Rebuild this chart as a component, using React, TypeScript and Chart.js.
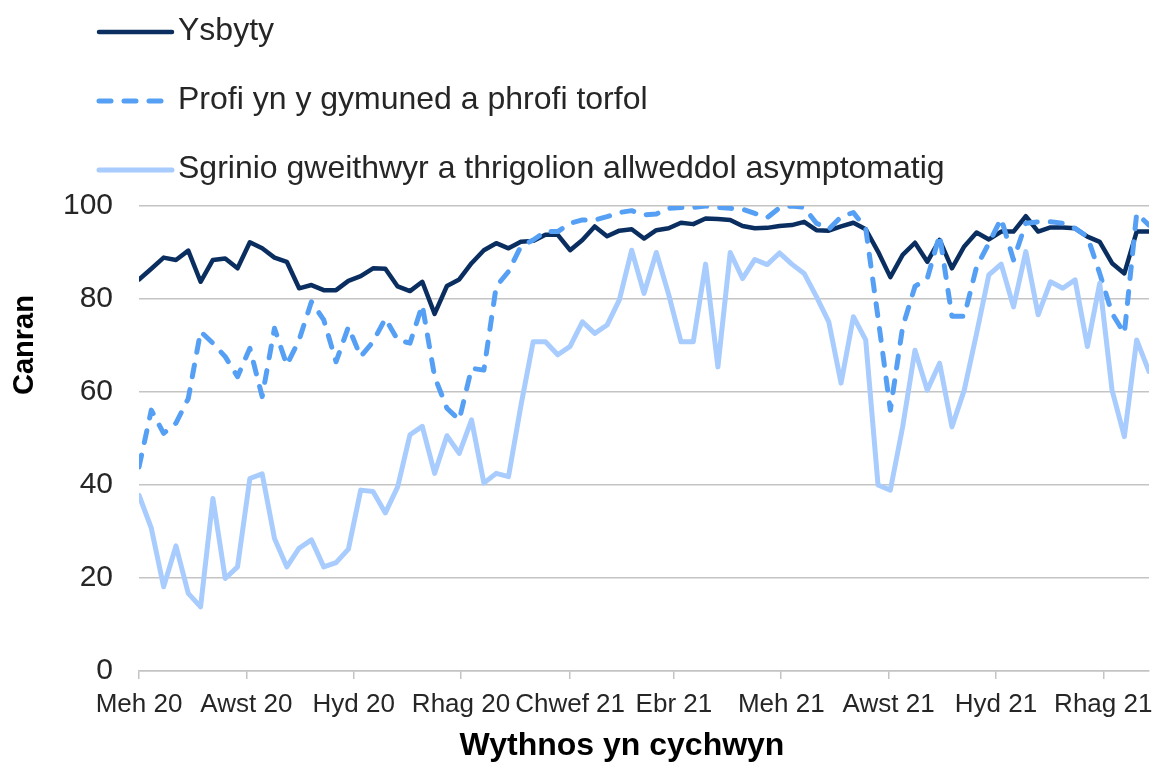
import React, { useEffect, useRef } from "react";
import { Chart, registerables } from "chart.js";

Chart.register(...registerables);

// ---- Data -----------------------------------------------------------------
const firstWeek = "2020-06-01"; // first "week beginning" date
const seriesNames = [
  "Ysbyty",
  "Profi yn y gymuned a phrofi torfol",
  "Sgrinio gweithwyr a thrigolion allweddol asymptomatig",
];

const ysbyty = [
  84.2, 86.5, 88.9, 88.4, 90.4, 83.7, 88.4, 88.7, 86.6, 92.2,
  90.9, 88.9, 88.0, 82.3, 83.0, 81.9, 81.9, 83.9, 84.9, 86.6,
  86.5, 82.7, 81.7, 83.7, 76.8, 82.8, 84.2, 87.7, 90.5, 92.0,
  90.9, 92.3, 92.5, 93.8, 93.8, 90.5, 92.7, 95.6, 93.5, 94.7,
  95.0, 93.0, 94.8, 95.2, 96.4, 96.1, 97.3, 97.2, 97.0, 95.7,
  95.2, 95.3, 95.7, 95.9, 96.6, 94.8, 94.7, 95.6, 96.4, 95.0,
  90.2, 84.7, 89.5, 92.1, 88.0, 92.7, 86.6, 91.3, 94.3, 92.8,
  94.5, 94.5, 97.8, 94.5, 95.4, 95.4, 95.2, 93.4, 92.3, 87.7,
  85.5, 94.5, 94.5,
];

const profi = [
  43.9, 56.1, 51.1, 53.3, 58.6, 73.0, 70.5, 67.6, 63.3, 69.4,
  59.0, 73.7, 65.8, 71.2, 79.4, 75.5, 66.5, 74.0, 67.6, 70.8,
  75.8, 71.2, 70.5, 78.7, 63.3, 56.5, 54.0, 65.1, 64.7, 82.7,
  85.9, 91.3, 92.7, 94.5, 94.5, 96.3, 97.0, 97.0, 97.7, 98.6,
  99.0, 98.1, 98.3, 99.5, 99.7, 99.7, 100.0, 99.7, 99.5, 99.3,
  98.4, 97.5, 99.6, 100.0, 99.7, 96.3, 95.0, 97.7, 98.6, 95.2,
  76.0, 56.1, 74.0, 82.7, 84.4, 93.8, 76.3, 76.3, 86.9, 92.0,
  97.3, 88.4, 96.3, 96.6, 96.6, 96.3, 95.2, 93.4, 85.5, 76.9,
  72.6, 98.4, 95.9,
];

const sgrinio = [
  37.8, 30.7, 18.1, 26.9, 16.7, 13.8, 37.1, 19.9, 22.4, 41.4,
  42.4, 28.5, 22.4, 26.4, 28.2, 22.4, 23.3, 26.2, 38.9, 38.6,
  34.0, 39.6, 50.8, 52.6, 42.5, 50.6, 46.8, 54.0, 40.4, 42.5,
  41.8, 57.0, 70.8, 70.8, 68.0, 69.8, 75.1, 72.6, 74.4, 79.8,
  90.5, 81.2, 90.0, 81.0, 70.8, 70.8, 87.5, 65.4, 90.0, 84.4,
  88.5, 87.4, 89.9, 87.5, 85.5, 80.5, 75.1, 61.9, 76.2, 71.2,
  40.0, 38.9, 52.5, 69.0, 60.4, 66.2, 52.5, 60.4, 72.6, 85.2,
  87.5, 78.3, 90.2, 76.6, 83.7, 82.3, 84.1, 69.8, 83.4, 60.4,
  50.4, 71.2, 64.4,
];

const tickDates = [
  "2020-06-01", "2020-08-01", "2020-10-01", "2020-12-01", "2021-02-01",
  "2021-04-01", "2021-06-01", "2021-08-01", "2021-10-01", "2021-12-01",
];
const tickLabels = [
  "Meh 20", "Awst 20", "Hyd 20", "Rhag 20", "Chwef 21",
  "Ebr 21", "Meh 21", "Awst 21", "Hyd 21", "Rhag 21",
];
const yMin = 0;
const yMax = 100;
const yStep = 20;
const xTitle = "Wythnos yn cychwyn";
const yTitle = "Canran";

// ---- Helpers --------------------------------------------------------------
const DAY = 86400000;
const daysFromStart = (d: string) =>
  Math.round((Date.parse(d) - Date.parse(firstWeek)) / DAY);
const weekDays = ysbyty.map((_, i) => i * 7); // week-beginning dates, in days
const tickDays = tickDates.map(daysFromStart);

const FONT = "'Liberation Sans', Arial, Helvetica, sans-serif";
const TEXT = "#262626";
const GRID = "#C4C4C4";

const stackLegend = {
  id: "stackLegend",
  afterDraw(chart: any) {
    const opts = chart.options.plugins.stackLegend;
    const ctx = chart.ctx;
    chart.data.datasets.forEach((ds: any, i: number) => {
      const y = opts.top + i * opts.spacing;
      ctx.save();
      ctx.strokeStyle = ds.borderColor;
      ctx.lineWidth = ds.borderWidth;
      ctx.lineCap = ds.borderCapStyle || "butt";
      ctx.setLineDash(ds.borderDash || []);
      ctx.beginPath();
      ctx.moveTo(opts.x0, y);
      ctx.lineTo(opts.x1, y);
      ctx.stroke();
      ctx.setLineDash([]);
      ctx.fillStyle = opts.color;
      ctx.font = opts.font;
      ctx.textAlign = "left";
      ctx.textBaseline = "alphabetic";
      ctx.fillText(ds.label, opts.textX, y + opts.baselineOffset);
      ctx.restore();
    });
  },
};

// axis titles placed like the original (not exactly centred on the plot)
const axisTitles = {
  id: "axisTitles",
  afterDraw(chart: any) {
    const o = chart.options.plugins.axisTitles;
    const ctx = chart.ctx;
    ctx.save();
    ctx.fillStyle = o.color;
    ctx.textAlign = "center";
    ctx.textBaseline = "middle";
    ctx.font = o.xFont;
    ctx.fillText(o.xText, o.xCx, o.xCy);
    ctx.translate(o.yCx, o.yCy);
    ctx.rotate(-Math.PI / 2);
    ctx.font = o.yFont;
    ctx.fillText(o.yText, 0, 0);
    ctx.restore();
  },
};

export default function App() {
  const ref = useRef<HTMLCanvasElement | null>(null);

  useEffect(() => {
    if (!ref.current) return;
    const mk = (vals: number[]) => vals.map((v, i) => ({ x: weekDays[i], y: v }));
    const chart = new Chart(ref.current, {
      type: "line",
      data: {
        datasets: [
          {
            label: seriesNames[0],
            data: mk(ysbyty),
            borderColor: "#0B2E61",
            borderWidth: 4.5,
            borderJoinStyle: "round",
            borderCapStyle: "round",
            pointRadius: 0,
            tension: 0,
            fill: false,
            order: 3,
          },
          {
            label: seriesNames[1],
            data: mk(profi),
            borderColor: "#55A0F4",
            borderWidth: 5,
            borderDash: [12, 13],
            borderJoinStyle: "round",
            borderCapStyle: "round",
            pointRadius: 0,
            tension: 0,
            fill: false,
            order: 2,
          },
          {
            label: seriesNames[2],
            data: mk(sgrinio),
            borderColor: "#A8CCFD",
            borderWidth: 5,
            borderJoinStyle: "round",
            borderCapStyle: "round",
            pointRadius: 0,
            tension: 0,
            fill: false,
            order: 1,
          },
        ],
      },
      options: {
        animation: false,
        responsive: false,
        layout: { padding: { top: 206, right: 6, left: 0, bottom: 0 } },
        plugins: {
          legend: { display: false },
          tooltip: { enabled: false },
          stackLegend: {
            top: 32,
            spacing: 69,
            x0: 99,
            x1: 172,
            textX: 178,
            baselineOffset: 8,
            font: `32px ${FONT}`,
            color: TEXT,
          },
          axisTitles: {
            color: "#000",
            xText: xTitle,
            xFont: `bold 32px ${FONT}`,
            xCx: 622,
            xCy: 746,
            yText: yTitle,
            yFont: `bold 29px ${FONT}`,
            yCx: 25,
            yCy: 345,
          },
        } as any,
        scales: {
          x: {
            type: "linear",
            min: 0,
            max: weekDays[weekDays.length - 1],
            afterBuildTicks: (scale: any) => {
              scale.ticks = tickDays.map((v) => ({ value: v }));
            },
            afterFit: (scale: any) => {
              scale.height = 91;
              scale.paddingLeft = 0;
              scale.paddingRight = 0;
            },
            ticks: {
              autoSkip: false,
              maxRotation: 0,
              minRotation: 0,
              padding: 10,
              color: TEXT,
              font: { family: FONT, size: 26 },
              callback: (value: any) => {
                const k = tickDays.indexOf(Number(value));
                return k >= 0 ? tickLabels[k] : "";
              },
            },
            grid: {
              drawOnChartArea: false,
              drawTicks: true,
              tickLength: 8,
              color: GRID,
              lineWidth: 1.5,
            },
            border: { display: true, color: GRID, width: 1.5 },
            title: { display: false },
          },
          y: {
            min: yMin,
            max: yMax,
            afterFit: (scale: any) => {
              scale.width = 139;
              scale.paddingTop = 0;
              scale.paddingBottom = 0;
            },
            ticks: {
              stepSize: yStep,
              padding: 26,
              color: TEXT,
              font: { family: FONT, size: 30 },
            },
            grid: { color: GRID, lineWidth: 1.5, drawTicks: false },
            border: { display: false },
            title: { display: false },
          },
        },
      } as any,
      plugins: [stackLegend, axisTitles],
    });
    return () => chart.destroy();
  }, []);

  return (
    <div style={{ position: "fixed", left: 0, top: 0, width: 1155, height: 762, background: "#fff" }}>
      <canvas ref={ref} width={1155} height={762} style={{ width: 1155, height: 762, display: "block" }} />
    </div>
  );
}
